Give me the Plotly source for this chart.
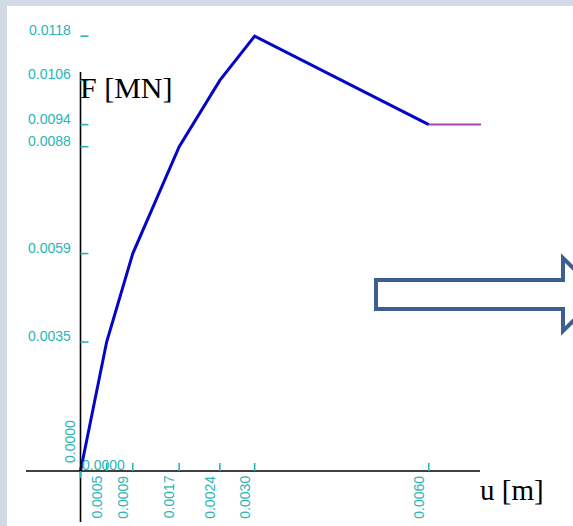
import plotly.graph_objects as go

W, H = 573, 526

# ---- data ----
u_curve = [0.0, 0.00045, 0.0009, 0.0017, 0.0024, 0.0030, 0.0060]
F_curve = [0.0, 0.0035, 0.0059, 0.0088, 0.0106, 0.0118, 0.0094]
u_plateau = [0.0060, 0.0069]
F_plateau = [0.0094, 0.0094]

x_tick_vals = [0.00045, 0.0009, 0.0017, 0.0024, 0.0030, 0.0060]
x_tick_text = ["0.0005", "0.0009", "0.0017", "0.0024", "0.0030", "0.0060"]
y_tick_vals = [0.0035, 0.0059, 0.0088, 0.0094, 0.0106, 0.0118]
y_tick_text = ["0.0035", "0.0059", "0.0088", "0.0094", "0.0106", "0.0118"]
origin_text = "0.0000"
x_title = "u [m]"
y_title = "F [MN]"

# ---- layout / scale constants ----
X0_PX, XU = 80.5, 58050.0   # pixel of u=0, pixels per metre
Y0_PX, YU = 471.0, 36850.0  # pixel of F=0, pixels per MN


def ux(px):
    return (px - X0_PX) / XU


def fy(py):
    return (Y0_PX - py) / YU


def pxp(px):
    return px / W


def pyp(py):
    return 1 - py / H


TEAL = "#29b5b5"
BLUE = "#0505c8"
PURPLE = "#a844ac"
ARROW = "#3b5f8e"
BG = "#d3dae7"
tick_font = dict(family="Liberation Sans, Arial, sans-serif", size=14, color=TEAL)
title_font = dict(family="Liberation Serif, Times New Roman, serif", size=30, color="black")
xtitle_font = dict(family="Liberation Serif, Times New Roman, serif", size=29, color="black")

fig = go.Figure()
fig.add_trace(go.Scatter(x=u_curve, y=F_curve, mode="lines",
                         line=dict(color=BLUE, width=3), hoverinfo="skip"))
fig.add_trace(go.Scatter(x=u_plateau, y=F_plateau, mode="lines",
                         line=dict(color=PURPLE, width=2), hoverinfo="skip"))

shapes = []
# white panel
shapes.append(dict(type="rect", xref="paper", yref="paper", x0=pxp(7), x1=1.0,
                   y0=0.0, y1=pyp(6), fillcolor="white", line=dict(width=0), layer="below"))
# axes
shapes.append(dict(type="line", xref="x", yref="y", x0=ux(26), x1=ux(480), y0=0, y1=0,
                   line=dict(color="black", width=1.6)))
shapes.append(dict(type="line", xref="x", yref="y", x0=0, x1=0, y0=fy(522), y1=fy(72),
                   line=dict(color="black", width=1.6)))
# y ticks (to the right of the axis)
for v in y_tick_vals:
    shapes.append(dict(type="line", xref="x", yref="y", x0=0, x1=ux(X0_PX + 8), y0=v, y1=v,
                       line=dict(color=TEAL, width=1.6)))
# x ticks (upwards)
for v in x_tick_vals:
    shapes.append(dict(type="line", xref="x", yref="y", x0=v, x1=v, y0=0, y1=fy(Y0_PX - 8),
                       line=dict(color=TEAL, width=1.6)))
# small tick below origin
shapes.append(dict(type="line", xref="x", yref="y", x0=0, x1=0, y0=0, y1=fy(Y0_PX + 7),
                   line=dict(color=TEAL, width=1.6)))

# outline arrow (decoration)
pts = [(376, 280), (563, 280), (563, 258), (600, 294.5), (563, 331), (563, 309), (376, 309)]
path = "M " + " L ".join(f"{pxp(a):.5f},{pyp(b):.5f}" for a, b in pts) + " Z"
shapes.append(dict(type="path", xref="paper", yref="paper", path=path,
                   line=dict(color=ARROW, width=4), fillcolor="rgba(0,0,0,0)"))

annotations = []
for v, t in zip(y_tick_vals, y_tick_text):
    annotations.append(dict(x=0, y=v, xref="x", yref="y", text=t, showarrow=False,
                            xanchor="right", yanchor="middle", xshift=-8, yshift=6,
                            font=tick_font))
for v, t in zip(x_tick_vals, x_tick_text):
    annotations.append(dict(x=v, y=0, xref="x", yref="y", text=t, showarrow=False,
                            textangle=-90, xanchor="center", yanchor="middle",
                            xshift=-10, yshift=-26, font=tick_font))
# origin labels
annotations.append(dict(x=0, y=0, xref="x", yref="y", text=origin_text, showarrow=False,
                        textangle=-90, xanchor="center", yanchor="middle",
                        xshift=-10.5, yshift=29, font=tick_font))
annotations.append(dict(x=0, y=0, xref="x", yref="y", text=origin_text, showarrow=False,
                        xanchor="left", yanchor="middle", xshift=-1, yshift=6, font=tick_font))
# axis titles
annotations.append(dict(x=0, y=fy(87), xref="x", yref="y", text=y_title, showarrow=False,
                        xanchor="left", yanchor="middle", xshift=-3, font=title_font))
annotations.append(dict(x=ux(478), y=fy(490), xref="x", yref="y", text=x_title, showarrow=False,
                        xanchor="left", yanchor="middle", font=xtitle_font))

fig.update_layout(
    width=W, height=H, autosize=False,
    margin=dict(l=0, r=0, t=0, b=0, pad=0),
    paper_bgcolor=BG, plot_bgcolor="rgba(0,0,0,0)",
    showlegend=False,
    xaxis=dict(range=[ux(0), ux(W)], visible=False, fixedrange=True),
    yaxis=dict(range=[fy(H), fy(0)], visible=False, fixedrange=True),
    shapes=shapes, annotations=annotations,
)

fig.write_html(
    "out.html",
    config={"displayModeBar": False},
    post_script="document.body.style.margin='0';document.body.style.overflow='hidden';",
)
